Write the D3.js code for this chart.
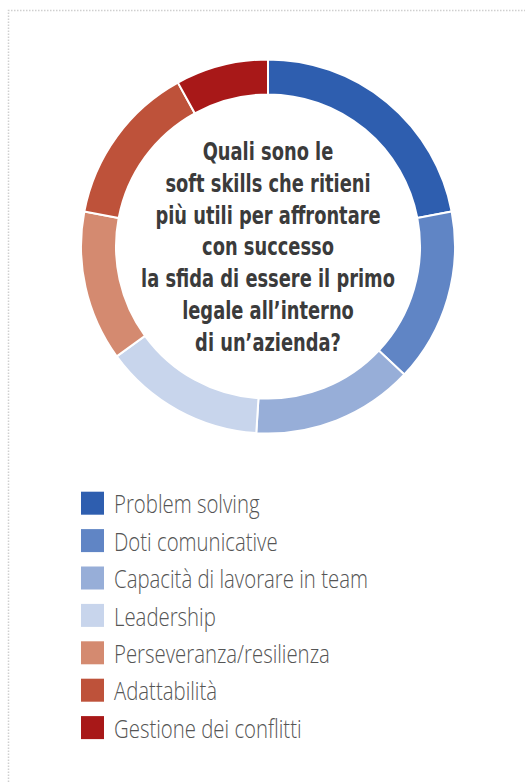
<!DOCTYPE html>
<html>
<head>
<meta charset="utf-8">
<script src="https://cdn.jsdelivr.net/npm/d3@7"></script>
<style>
  body { margin: 0; background: #fff; }
  svg { display: block; }
</style>
</head>
<body>
<svg id="chart" width="525" height="782"></svg>
<script>
const skills = [
  "Problem solving",
  "Doti comunicative",
  "Capacità di lavorare in team",
  "Leadership",
  "Perseveranza/resilienza",
  "Adattabilità",
  "Gestione dei conflitti"
];
const shares = [22, 15, 14, 14, 13, 14, 8];
const colors = ["#2e5eaf", "#6085c5", "#97aed8", "#c8d5ec", "#d48a70", "#be523a", "#a81818"];
const question = [
  "Quali sono le",
  "soft skills che ritieni",
  "più utili per affrontare",
  "con successo",
  "la sfida di essere il primo",
  "legale all\u2019interno",
  "di un\u2019azienda?"
];

const width = 525, height = 782;
const cx = 268, cy = 246.5;
const outerR = 187, innerR = 152;

const svg = d3.select("#chart");

// dotted frame, open on the right and bottom
svg.append("path")
  .attr("d", `M8.5,${height} V10.5 H${width}`)
  .attr("fill", "none")
  .attr("stroke", "#cfcfcf")
  .attr("stroke-width", 1.5)
  .attr("stroke-dasharray", "1.5,1.5");

const data = skills.map((s, i) => ({ skill: s, value: shares[i] }));

const pie = d3.pie().value(d => d.value).sort(null);
const arc = d3.arc().innerRadius(innerR).outerRadius(outerR);
const color = d3.scaleOrdinal().domain(skills).range(colors);

const ring = svg.append("g").attr("transform", `translate(${cx},${cy})`);
ring.selectAll("path")
  .data(pie(data))
  .join("path")
  .attr("d", arc)
  .attr("fill", d => color(d.data.skill))
  .attr("stroke", "#fff")
  .attr("stroke-width", 2);

// question in the middle
const q = ring.append("g");
const qText = q.selectAll("text")
  .data(question)
  .join("text")
  .attr("x", 0)
  .attr("y", (d, i) => -86.5 + i * 31.8)
  .attr("text-anchor", "middle")
  .attr("fill", "#3b3b3b")
  .style("font-family", "'Liberation Sans Narrow', 'DejaVu Sans Condensed', 'Roboto', sans-serif")
  .style("font-weight", "bold")
  .style("font-size", "24.5px")
  .text(d => d);
const qWidest = d3.max(qText.nodes(), n => n.getComputedTextLength());
q.attr("transform", `scale(${254 / qWidest},1)`);

// legend
const rowY = d3.scalePoint().domain(skills).range([491.7, 716.1]);
const legend = svg.append("g").attr("transform", "translate(81,0)");
legend.selectAll("rect")
  .data(skills)
  .join("rect")
  .attr("x", 0)
  .attr("y", d => rowY(d))
  .attr("width", 23)
  .attr("height", 23)
  .attr("fill", d => color(d));

const lab = legend.append("g").attr("transform", "translate(33,0)");
const labText = lab.selectAll("text")
  .data(skills)
  .join("text")
  .attr("x", 0)
  .attr("y", d => rowY(d) + 21.8)
  .attr("fill", "#555")
  .style("font-family", "'Open Sans', 'Lato', sans-serif")
  .style("font-weight", 300)
  .style("font-size", "26px")
  .text(d => d);
const widest = d3.max(labText.nodes(), n => n.getComputedTextLength());
labText.attr("transform", `scale(${254 / widest},1)`);
</script>
</body>
</html>
